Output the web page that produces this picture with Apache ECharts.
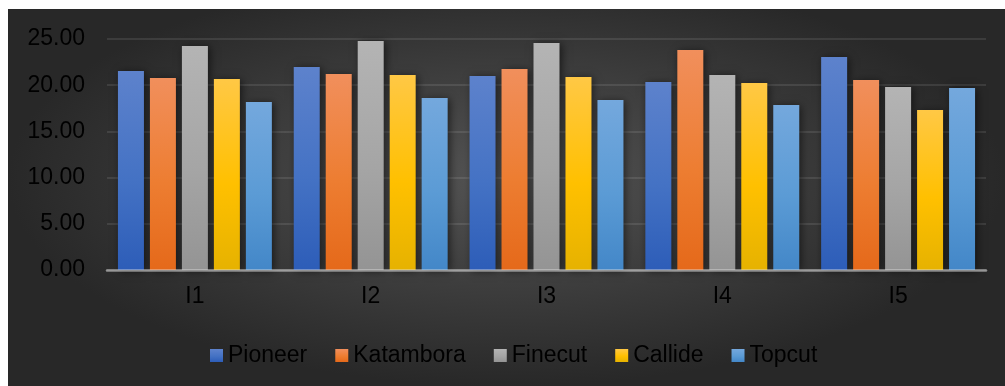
<!DOCTYPE html>
<html>
<head>
<meta charset="utf-8">
<script src="https://cdn.jsdelivr.net/npm/echarts@6/dist/echarts.min.js"></script>
<style>
  html, body { margin: 0; padding: 0; background: #fff; }
  #chart {
    position: absolute;
    left: 8px;
    top: 9px;
    width: 997px;
    height: 377px;
    background: radial-gradient(ellipse farthest-side at 50% 45%, #545454 0%, #3c3c3c 55%, #282828 100%);
  }
</style>
</head>
<body>
<div id="chart"></div>
<script>
const categories = ['I1', 'I2', 'I3', 'I4', 'I5']
const yTicks = [0, 5, 10, 15, 20, 25]

const pioneer = [21.54, 21.97, 21.00, 20.35, 23.05]
const katambora = [20.78, 21.21, 21.75, 23.81, 20.56]
const finecut = [24.24, 24.78, 24.57, 21.10, 19.81]
const callide = [20.67, 21.10, 20.89, 20.24, 17.32]
const topcut = [18.18, 18.61, 18.40, 17.86, 19.70]

const FONT = "'Liberation Sans', Arial, sans-serif"

// top / middle / bottom of each bar's gradient
const palette = {
  Pioneer: ['#5d82cc', '#4472c4', '#2d5db8'],
  Katambora: ['#f18f5c', '#ed7d31', '#e5691a'],
  Finecut: ['#b4b4b4', '#a5a5a5', '#949494'],
  Callide: ['#ffc845', '#ffc000', '#e6b200'],
  Topcut: ['#74a8dd', '#5b9bd5', '#4387c8']
}

function makeSeries(name, data) {
  const c = palette[name]
  return {
    name: name,
    type: 'bar',
    data: data,
    barWidth: 26,
    barGap: '23%',
    itemStyle: {
      color: new echarts.graphic.LinearGradient(0, 0, 0, 1, [
        { offset: 0, color: c[0] },
        { offset: 0.55, color: c[1] },
        { offset: 1, color: c[2] }
      ]),
      shadowBlur: 8,
      shadowOffsetX: 2,
      shadowOffsetY: 1,
      shadowColor: 'rgba(0,0,0,0.55)'
    }
  }
}

const chart = echarts.init(document.getElementById('chart'))
chart.setOption({
  backgroundColor: 'transparent',
  animation: false,
  textStyle: { fontFamily: FONT },
  grid: { left: 99, right: 19, top: 30, bottom: 116, containLabel: false },
  legend: {
    left: 197,
    top: 330,
    icon: 'rect',
    itemWidth: 13,
    itemHeight: 13,
    itemGap: 28,
    textStyle: { color: '#000', fontSize: 23, fontFamily: FONT }
  },
  xAxis: {
    type: 'category',
    data: categories,
    z: 5,
    axisLine: { show: true, lineStyle: { color: 'rgba(225,225,225,0.55)', width: 2.5 } },
    axisTick: { show: false },
    axisLabel: { color: '#000', fontSize: 23, margin: 15, fontFamily: FONT }
  },
  yAxis: {
    type: 'value',
    min: yTicks[0],
    max: yTicks[yTicks.length - 1],
    interval: 5,
    axisLine: { show: false },
    axisTick: { show: false },
    axisLabel: {
      color: '#000',
      fontSize: 23,
      margin: 22,
      fontFamily: FONT,
      formatter: v => v.toFixed(2)
    },
    splitLine: { lineStyle: { color: 'rgba(255,255,255,0.13)', width: 1.5 } }
  },
  series: [
    makeSeries('Pioneer', pioneer),
    makeSeries('Katambora', katambora),
    makeSeries('Finecut', finecut),
    makeSeries('Callide', callide),
    makeSeries('Topcut', topcut)
  ]
})
</script>
</body>
</html>
